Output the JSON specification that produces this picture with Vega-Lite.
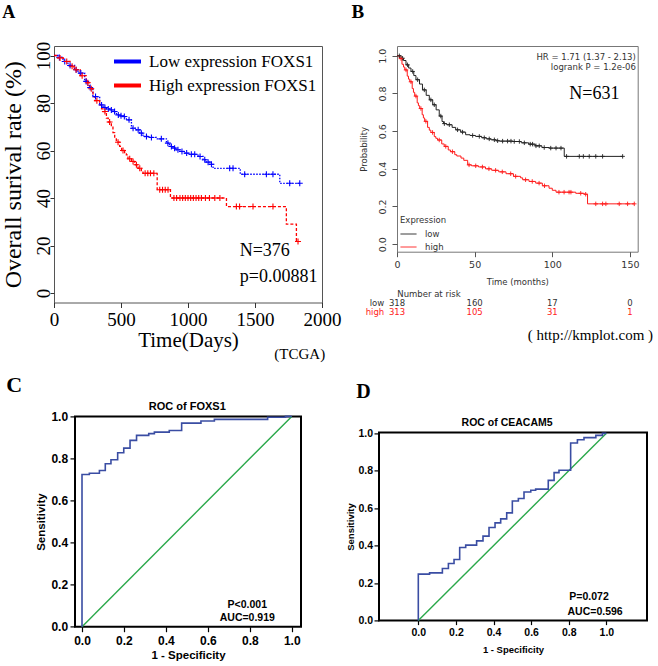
{
"$schema": "https://vega.github.io/schema/vega-lite/v6.json",
"background": "white",
"padding": {"left": 0, "top": 2, "right": 0, "bottom": 0},
"config": {"view": {"stroke": null}, "axis": {"grid": false, "tickCount": 12}, "legend": {"symbolDash": [1, 0]}},
"datasets": {
"kmA": [
{"grp":"low","t":0,"s":100,"c":0},{"grp":"low","t":30,"s":99.2,"c":0},{"grp":"low","t":40,"s":99.2,"c":1},{"grp":"low","t":67,"s":97.5,"c":0},{"grp":"low","t":80,"s":97.5,"c":1},{"grp":"low","t":104,"s":95.8,"c":0},{"grp":"low","t":120,"s":95.8,"c":1},{"grp":"low","t":154,"s":94.0,"c":0},{"grp":"low","t":165,"s":94.0,"c":1},{"grp":"low","t":179,"s":92.6,"c":0},{"grp":"low","t":200,"s":92.6,"c":1},{"grp":"low","t":229,"s":89.1,"c":0},{"grp":"low","t":240,"s":89.1,"c":1},{"grp":"low","t":254,"s":86.5,"c":0},{"grp":"low","t":270,"s":86.5,"c":1},{"grp":"low","t":290,"s":82.7,"c":0},{"grp":"low","t":310,"s":82.7,"c":1},{"grp":"low","t":341,"s":79.2,"c":0},{"grp":"low","t":355,"s":79.2,"c":1},{"grp":"low","t":366,"s":78.1,"c":0},{"grp":"low","t":380,"s":78.1,"c":1},{"grp":"low","t":391,"s":77.5,"c":0},{"grp":"low","t":405,"s":77.5,"c":1},{"grp":"low","t":416,"s":77.1,"c":0},{"grp":"low","t":428,"s":77.1,"c":1},{"grp":"low","t":440,"s":76.4,"c":0},{"grp":"low","t":452,"s":76.4,"c":1},{"grp":"low","t":466,"s":75.0,"c":0},{"grp":"low","t":480,"s":75.0,"c":1},{"grp":"low","t":490,"s":74.6,"c":0},{"grp":"low","t":500,"s":74.6,"c":1},{"grp":"low","t":515,"s":74.3,"c":0},{"grp":"low","t":525,"s":74.3,"c":1},{"grp":"low","t":540,"s":72.9,"c":0},{"grp":"low","t":560,"s":72.9,"c":1},{"grp":"low","t":578,"s":69.4,"c":0},{"grp":"low","t":590,"s":69.4,"c":1},{"grp":"low","t":615,"s":68.7,"c":0},{"grp":"low","t":628,"s":68.7,"c":1},{"grp":"low","t":640,"s":67.3,"c":0},{"grp":"low","t":652,"s":67.3,"c":1},{"grp":"low","t":664,"s":65.9,"c":0},{"grp":"low","t":690,"s":65.9,"c":1},{"grp":"low","t":700,"s":65.5,"c":0},{"grp":"low","t":727,"s":65.5,"c":1},{"grp":"low","t":764,"s":64.9,"c":0},{"grp":"low","t":801,"s":64.9,"c":1},{"grp":"low","t":839,"s":63.1,"c":0},{"grp":"low","t":850,"s":63.1,"c":1},{"grp":"low","t":863,"s":61.7,"c":0},{"grp":"low","t":876,"s":61.7,"c":1},{"grp":"low","t":888,"s":61.0,"c":0},{"grp":"low","t":900,"s":61.0,"c":1},{"grp":"low","t":913,"s":60.3,"c":0},{"grp":"low","t":925,"s":60.3,"c":1},{"grp":"low","t":938,"s":59.6,"c":0},{"grp":"low","t":955,"s":59.6,"c":1},{"grp":"low","t":975,"s":58.9,"c":0},{"grp":"low","t":990,"s":58.9,"c":1},{"grp":"low","t":1000,"s":58.4,"c":0},{"grp":"low","t":1025,"s":58.4,"c":1},{"grp":"low","t":1050,"s":58.4,"c":1},{"grp":"low","t":1075,"s":57.5,"c":0},{"grp":"low","t":1090,"s":57.5,"c":1},{"grp":"low","t":1112,"s":56.1,"c":0},{"grp":"low","t":1125,"s":56.1,"c":1},{"grp":"low","t":1137,"s":55.1,"c":0},{"grp":"low","t":1150,"s":55.1,"c":1},{"grp":"low","t":1162,"s":54.2,"c":0},{"grp":"low","t":1175,"s":54.2,"c":1},{"grp":"low","t":1187,"s":52.5,"c":0},{"grp":"low","t":1311,"s":52.5,"c":1},{"grp":"low","t":1336,"s":52.5,"c":1},{"grp":"low","t":1390,"s":50.0,"c":0},{"grp":"low","t":1423,"s":50.0,"c":1},{"grp":"low","t":1585,"s":50.0,"c":1},{"grp":"low","t":1634,"s":50.0,"c":1},{"grp":"low","t":1685,"s":46.2,"c":0},{"grp":"low","t":1759,"s":46.2,"c":1},{"grp":"low","t":1834,"s":46.2,"c":1},
{"grp":"high","t":0,"s":100,"c":0},{"grp":"high","t":25,"s":99.0,"c":0},{"grp":"high","t":45,"s":99.0,"c":1},{"grp":"high","t":70,"s":97.5,"c":0},{"grp":"high","t":95,"s":97.5,"c":1},{"grp":"high","t":120,"s":95.5,"c":0},{"grp":"high","t":135,"s":95.5,"c":1},{"grp":"high","t":150,"s":94.0,"c":0},{"grp":"high","t":165,"s":94.0,"c":1},{"grp":"high","t":195,"s":91.5,"c":0},{"grp":"high","t":210,"s":91.5,"c":1},{"grp":"high","t":240,"s":88.5,"c":0},{"grp":"high","t":252,"s":88.5,"c":1},{"grp":"high","t":265,"s":86.0,"c":0},{"grp":"high","t":278,"s":86.0,"c":1},{"grp":"high","t":291,"s":82.7,"c":0},{"grp":"high","t":305,"s":81.0,"c":0},{"grp":"high","t":320,"s":81.0,"c":1},{"grp":"high","t":341,"s":79.2,"c":0},{"grp":"high","t":355,"s":77.5,"c":0},{"grp":"high","t":366,"s":76.4,"c":0},{"grp":"high","t":380,"s":76.4,"c":1},{"grp":"high","t":391,"s":73.6,"c":0},{"grp":"high","t":405,"s":72.0,"c":0},{"grp":"high","t":415,"s":72.0,"c":1},{"grp":"high","t":428,"s":70.1,"c":0},{"grp":"high","t":440,"s":67.5,"c":0},{"grp":"high","t":453,"s":65.2,"c":0},{"grp":"high","t":465,"s":63.5,"c":0},{"grp":"high","t":478,"s":63.5,"c":1},{"grp":"high","t":490,"s":61.7,"c":0},{"grp":"high","t":505,"s":60.0,"c":0},{"grp":"high","t":515,"s":60.0,"c":1},{"grp":"high","t":527,"s":59.0,"c":0},{"grp":"high","t":540,"s":58.2,"c":0},{"grp":"high","t":552,"s":56.5,"c":0},{"grp":"high","t":565,"s":56.5,"c":1},{"grp":"high","t":578,"s":55.4,"c":0},{"grp":"high","t":590,"s":55.4,"c":1},{"grp":"high","t":602,"s":54.0,"c":0},{"grp":"high","t":615,"s":54.0,"c":1},{"grp":"high","t":627,"s":52.5,"c":0},{"grp":"high","t":640,"s":52.5,"c":1},{"grp":"high","t":652,"s":51.5,"c":0},{"grp":"high","t":664,"s":50.4,"c":0},{"grp":"high","t":680,"s":50.4,"c":1},{"grp":"high","t":700,"s":50.4,"c":1},{"grp":"high","t":720,"s":50.4,"c":1},{"grp":"high","t":745,"s":50.4,"c":1},{"grp":"high","t":770,"s":43.5,"c":0},{"grp":"high","t":789,"s":43.5,"c":1},{"grp":"high","t":810,"s":43.5,"c":1},{"grp":"high","t":830,"s":43.5,"c":1},{"grp":"high","t":851,"s":43.5,"c":1},{"grp":"high","t":869,"s":40.0,"c":0},{"grp":"high","t":895,"s":40.0,"c":1},{"grp":"high","t":915,"s":40.0,"c":1},{"grp":"high","t":940,"s":40.0,"c":1},{"grp":"high","t":960,"s":40.0,"c":1},{"grp":"high","t":980,"s":40.0,"c":1},{"grp":"high","t":1000,"s":40.0,"c":1},{"grp":"high","t":1020,"s":40.0,"c":1},{"grp":"high","t":1040,"s":40.0,"c":1},{"grp":"high","t":1060,"s":40.0,"c":1},{"grp":"high","t":1080,"s":40.0,"c":1},{"grp":"high","t":1100,"s":40.0,"c":1},{"grp":"high","t":1130,"s":40.0,"c":1},{"grp":"high","t":1160,"s":40.0,"c":1},{"grp":"high","t":1200,"s":40.0,"c":1},{"grp":"high","t":1238,"s":40.0,"c":1},{"grp":"high","t":1287,"s":36.4,"c":0},{"grp":"high","t":1361,"s":36.4,"c":1},{"grp":"high","t":1385,"s":36.4,"c":1},{"grp":"high","t":1485,"s":36.4,"c":1},{"grp":"high","t":1634,"s":36.4,"c":1},{"grp":"high","t":1734,"s":29.0,"c":0},{"grp":"high","t":1809,"s":21.7,"c":0},{"grp":"high","t":1821,"s":21.7,"c":1}
],
"kmB": [
{"grp":"low","t":0,"s":1.0,"c":0},{"grp":"low","t":1.5,"s":1.0,"c":1},{"grp":"low","t":2.6,"s":0.987,"c":0},{"grp":"low","t":3.6,"s":0.987,"c":1},{"grp":"low","t":4.2,"s":0.975,"c":0},{"grp":"low","t":5.8,"s":0.952,"c":0},{"grp":"low","t":6.8,"s":0.952,"c":1},{"grp":"low","t":7.5,"s":0.935,"c":0},{"grp":"low","t":9.0,"s":0.917,"c":0},{"grp":"low","t":10.1,"s":0.917,"c":1},{"grp":"low","t":10.8,"s":0.895,"c":0},{"grp":"low","t":12.2,"s":0.873,"c":0},{"grp":"low","t":13.3,"s":0.873,"c":1},{"grp":"low","t":14.5,"s":0.85,"c":0},{"grp":"low","t":16.4,"s":0.819,"c":0},{"grp":"low","t":17.6,"s":0.819,"c":1},{"grp":"low","t":18.8,"s":0.79,"c":0},{"grp":"low","t":20.8,"s":0.766,"c":0},{"grp":"low","t":21.8,"s":0.766,"c":1},{"grp":"low","t":23.0,"s":0.74,"c":0},{"grp":"low","t":24.0,"s":0.74,"c":1},{"grp":"low","t":25.2,"s":0.713,"c":0},{"grp":"low","t":27.2,"s":0.68,"c":0},{"grp":"low","t":28.2,"s":0.68,"c":1},{"grp":"low","t":29.0,"s":0.651,"c":0},{"grp":"low","t":30.0,"s":0.64,"c":0},{"grp":"low","t":30.5,"s":0.64,"c":1},{"grp":"low","t":32.0,"s":0.634,"c":0},{"grp":"low","t":33.7,"s":0.634,"c":1},{"grp":"low","t":35.5,"s":0.62,"c":0},{"grp":"low","t":37.8,"s":0.607,"c":0},{"grp":"low","t":39.0,"s":0.607,"c":1},{"grp":"low","t":41.0,"s":0.595,"c":0},{"grp":"low","t":42.2,"s":0.595,"c":1},{"grp":"low","t":44.2,"s":0.581,"c":0},{"grp":"low","t":47.0,"s":0.577,"c":0},{"grp":"low","t":48.7,"s":0.577,"c":1},{"grp":"low","t":50.6,"s":0.572,"c":0},{"grp":"low","t":53.0,"s":0.572,"c":1},{"grp":"low","t":54.5,"s":0.565,"c":0},{"grp":"low","t":56.2,"s":0.565,"c":1},{"grp":"low","t":57.5,"s":0.559,"c":0},{"grp":"low","t":59.4,"s":0.559,"c":1},{"grp":"low","t":60.5,"s":0.554,"c":0},{"grp":"low","t":62.7,"s":0.554,"c":1},{"grp":"low","t":63.8,"s":0.549,"c":0},{"grp":"low","t":64.8,"s":0.549,"c":1},{"grp":"low","t":66.0,"s":0.547,"c":0},{"grp":"low","t":68.0,"s":0.547,"c":1},{"grp":"low","t":71.2,"s":0.547,"c":1},{"grp":"low","t":73.4,"s":0.547,"c":1},{"grp":"low","t":74.5,"s":0.545,"c":0},{"grp":"low","t":75.5,"s":0.545,"c":1},{"grp":"low","t":78.8,"s":0.545,"c":1},{"grp":"low","t":80.0,"s":0.538,"c":0},{"grp":"low","t":82.0,"s":0.538,"c":1},{"grp":"low","t":84.8,"s":0.531,"c":0},{"grp":"low","t":85.8,"s":0.531,"c":1},{"grp":"low","t":87.3,"s":0.531,"c":1},{"grp":"low","t":89.0,"s":0.522,"c":0},{"grp":"low","t":89.5,"s":0.522,"c":1},{"grp":"low","t":91.6,"s":0.522,"c":1},{"grp":"low","t":93.3,"s":0.513,"c":0},{"grp":"low","t":94.8,"s":0.513,"c":1},{"grp":"low","t":98.0,"s":0.51,"c":0},{"grp":"low","t":99.0,"s":0.51,"c":1},{"grp":"low","t":102.4,"s":0.51,"c":1},{"grp":"low","t":105.6,"s":0.51,"c":1},{"grp":"low","t":107.7,"s":0.466,"c":0},{"grp":"low","t":109.2,"s":0.466,"c":1},{"grp":"low","t":117.4,"s":0.466,"c":1},{"grp":"low","t":120.0,"s":0.466,"c":1},{"grp":"low","t":123.8,"s":0.466,"c":1},{"grp":"low","t":128.0,"s":0.466,"c":1},{"grp":"low","t":132.4,"s":0.466,"c":1},{"grp":"low","t":145.3,"s":0.466,"c":1},
{"grp":"high","t":0,"s":1.0,"c":0},{"grp":"high","t":1.5,"s":0.985,"c":0},{"grp":"high","t":2.6,"s":0.985,"c":1},{"grp":"high","t":3.2,"s":0.955,"c":0},{"grp":"high","t":4.2,"s":0.94,"c":0},{"grp":"high","t":5.0,"s":0.925,"c":0},{"grp":"high","t":5.8,"s":0.925,"c":1},{"grp":"high","t":6.6,"s":0.892,"c":0},{"grp":"high","t":7.4,"s":0.876,"c":0},{"grp":"high","t":8.2,"s":0.862,"c":0},{"grp":"high","t":9.0,"s":0.862,"c":1},{"grp":"high","t":9.8,"s":0.826,"c":0},{"grp":"high","t":10.6,"s":0.806,"c":0},{"grp":"high","t":11.4,"s":0.786,"c":0},{"grp":"high","t":12.2,"s":0.786,"c":1},{"grp":"high","t":13.0,"s":0.75,"c":0},{"grp":"high","t":13.8,"s":0.735,"c":0},{"grp":"high","t":14.6,"s":0.72,"c":0},{"grp":"high","t":15.4,"s":0.72,"c":1},{"grp":"high","t":16.2,"s":0.687,"c":0},{"grp":"high","t":17.0,"s":0.67,"c":0},{"grp":"high","t":17.8,"s":0.652,"c":0},{"grp":"high","t":18.6,"s":0.652,"c":1},{"grp":"high","t":19.7,"s":0.62,"c":0},{"grp":"high","t":20.8,"s":0.605,"c":0},{"grp":"high","t":21.8,"s":0.593,"c":0},{"grp":"high","t":22.9,"s":0.593,"c":1},{"grp":"high","t":24.0,"s":0.571,"c":0},{"grp":"high","t":25.0,"s":0.562,"c":0},{"grp":"high","t":26.1,"s":0.553,"c":0},{"grp":"high","t":27.2,"s":0.553,"c":1},{"grp":"high","t":28.8,"s":0.532,"c":0},{"grp":"high","t":30.4,"s":0.519,"c":0},{"grp":"high","t":31.4,"s":0.519,"c":1},{"grp":"high","t":33.0,"s":0.5,"c":0},{"grp":"high","t":34.4,"s":0.491,"c":0},{"grp":"high","t":35.7,"s":0.491,"c":1},{"grp":"high","t":37.2,"s":0.475,"c":0},{"grp":"high","t":38.5,"s":0.468,"c":0},{"grp":"high","t":41.2,"s":0.457,"c":0},{"grp":"high","t":43.0,"s":0.445,"c":0},{"grp":"high","t":45.5,"s":0.421,"c":0},{"grp":"high","t":46.4,"s":0.421,"c":1},{"grp":"high","t":48.0,"s":0.416,"c":0},{"grp":"high","t":50.7,"s":0.416,"c":1},{"grp":"high","t":52.5,"s":0.41,"c":0},{"grp":"high","t":55.0,"s":0.41,"c":1},{"grp":"high","t":57.0,"s":0.4,"c":0},{"grp":"high","t":59.2,"s":0.4,"c":1},{"grp":"high","t":61.0,"s":0.392,"c":0},{"grp":"high","t":63.5,"s":0.392,"c":1},{"grp":"high","t":65.5,"s":0.384,"c":0},{"grp":"high","t":67.8,"s":0.384,"c":1},{"grp":"high","t":70.2,"s":0.374,"c":0},{"grp":"high","t":73.2,"s":0.374,"c":1},{"grp":"high","t":75.0,"s":0.36,"c":0},{"grp":"high","t":76.4,"s":0.36,"c":1},{"grp":"high","t":79.6,"s":0.352,"c":0},{"grp":"high","t":80.9,"s":0.342,"c":0},{"grp":"high","t":82.8,"s":0.342,"c":1},{"grp":"high","t":85.0,"s":0.333,"c":0},{"grp":"high","t":87.1,"s":0.333,"c":1},{"grp":"high","t":89.3,"s":0.324,"c":0},{"grp":"high","t":91.5,"s":0.324,"c":1},{"grp":"high","t":93.6,"s":0.31,"c":0},{"grp":"high","t":95.0,"s":0.31,"c":1},{"grp":"high","t":97.9,"s":0.297,"c":0},{"grp":"high","t":100.0,"s":0.286,"c":0},{"grp":"high","t":102.4,"s":0.276,"c":0},{"grp":"high","t":104.3,"s":0.276,"c":1},{"grp":"high","t":107.6,"s":0.276,"c":1},{"grp":"high","t":110.8,"s":0.276,"c":1},{"grp":"high","t":112.0,"s":0.276,"c":1},{"grp":"high","t":115.1,"s":0.27,"c":0},{"grp":"high","t":118.3,"s":0.27,"c":1},{"grp":"high","t":120.5,"s":0.265,"c":0},{"grp":"high","t":121.5,"s":0.265,"c":1},{"grp":"high","t":122.7,"s":0.214,"c":0},{"grp":"high","t":128.0,"s":0.214,"c":1},{"grp":"high","t":132.4,"s":0.214,"c":1},{"grp":"high","t":134.5,"s":0.214,"c":1},{"grp":"high","t":143.1,"s":0.214,"c":1},{"grp":"high","t":148.5,"s":0.214,"c":1},{"grp":"high","t":152.8,"s":0.214,"c":1}
],
"riskB": [
{"grp":"low","t":0,"n":318},{"grp":"low","t":50,"n":160},{"grp":"low","t":100,"n":17},{"grp":"low","t":150,"n":0},
{"grp":"high","t":0,"n":313},{"grp":"high","t":50,"n":105},{"grp":"high","t":100,"n":31},{"grp":"high","t":150,"n":1}
],
"rocC": [
{"i":0,"x":0,"y":0},{"i":1,"x":0,"y":0.724},{"i":2,"x":0.035,"y":0.724},{"i":3,"x":0.035,"y":0.73},{"i":4,"x":0.083,"y":0.73},{"i":5,"x":0.083,"y":0.743},{"i":6,"x":0.111,"y":0.743},{"i":7,"x":0.111,"y":0.775},{"i":8,"x":0.138,"y":0.775},{"i":9,"x":0.138,"y":0.794},{"i":10,"x":0.17,"y":0.794},{"i":11,"x":0.17,"y":0.827},{"i":12,"x":0.199,"y":0.827},{"i":13,"x":0.199,"y":0.849},{"i":14,"x":0.229,"y":0.849},{"i":15,"x":0.229,"y":0.886},{"i":16,"x":0.26,"y":0.886},{"i":17,"x":0.26,"y":0.91},{"i":18,"x":0.318,"y":0.91},{"i":19,"x":0.318,"y":0.918},{"i":20,"x":0.345,"y":0.918},{"i":21,"x":0.345,"y":0.925},{"i":22,"x":0.416,"y":0.925},{"i":23,"x":0.416,"y":0.933},{"i":24,"x":0.475,"y":0.933},{"i":25,"x":0.475,"y":0.968},{"i":26,"x":0.567,"y":0.968},{"i":27,"x":0.567,"y":0.978},{"i":28,"x":0.631,"y":0.978},{"i":29,"x":0.631,"y":0.986},{"i":30,"x":0.885,"y":0.986},{"i":31,"x":0.885,"y":0.996},{"i":32,"x":0.97,"y":0.996},{"i":33,"x":0.97,"y":1},{"i":34,"x":1,"y":1}
],
"rocD": [
{"i":0,"x":0,"y":0},{"i":1,"x":0,"y":0.248},{"i":2,"x":0.06,"y":0.248},{"i":3,"x":0.06,"y":0.255},{"i":4,"x":0.128,"y":0.255},{"i":5,"x":0.128,"y":0.278},{"i":6,"x":0.16,"y":0.278},{"i":7,"x":0.16,"y":0.305},{"i":8,"x":0.19,"y":0.305},{"i":9,"x":0.19,"y":0.326},{"i":10,"x":0.22,"y":0.326},{"i":11,"x":0.22,"y":0.39},{"i":12,"x":0.252,"y":0.39},{"i":13,"x":0.252,"y":0.403},{"i":14,"x":0.31,"y":0.403},{"i":15,"x":0.31,"y":0.426},{"i":16,"x":0.344,"y":0.426},{"i":17,"x":0.344,"y":0.451},{"i":18,"x":0.376,"y":0.451},{"i":19,"x":0.376,"y":0.497},{"i":20,"x":0.408,"y":0.497},{"i":21,"x":0.408,"y":0.522},{"i":22,"x":0.438,"y":0.522},{"i":23,"x":0.438,"y":0.543},{"i":24,"x":0.47,"y":0.543},{"i":25,"x":0.47,"y":0.575},{"i":26,"x":0.5,"y":0.575},{"i":27,"x":0.5,"y":0.639},{"i":28,"x":0.532,"y":0.639},{"i":29,"x":0.532,"y":0.652},{"i":30,"x":0.562,"y":0.652},{"i":31,"x":0.562,"y":0.687},{"i":32,"x":0.598,"y":0.687},{"i":33,"x":0.598,"y":0.696},{"i":34,"x":0.624,"y":0.696},{"i":35,"x":0.624,"y":0.702},{"i":36,"x":0.691,"y":0.702},{"i":37,"x":0.691,"y":0.749},{"i":38,"x":0.722,"y":0.749},{"i":39,"x":0.722,"y":0.79},{"i":40,"x":0.748,"y":0.79},{"i":41,"x":0.748,"y":0.803},{"i":42,"x":0.81,"y":0.803},{"i":43,"x":0.81,"y":0.948},{"i":44,"x":0.846,"y":0.948},{"i":45,"x":0.846,"y":0.966},{"i":46,"x":0.881,"y":0.966},{"i":47,"x":0.881,"y":0.977},{"i":48,"x":0.944,"y":0.977},{"i":49,"x":0.944,"y":0.989},{"i":50,"x":0.979,"y":0.989},{"i":51,"x":0.979,"y":1},{"i":52,"x":1,"y":1}
],
"diag": [{"x":0,"y":0},{"x":1,"y":1}]
},
"spacing": 10.4,
"resolve": {"scale": {"color": "independent"}, "legend": {"color": "independent"}},
"vconcat": [
{
"bounds": "flush",
"spacing": 0,
"resolve": {"scale": {"color": "independent"}, "legend": {"color": "independent"}},
"hconcat": [
{
"width": 268, "height": 256.5,
"view": {"stroke": "#555", "strokeWidth": 1},
"layer": [
{"data": {"name": "kmA"},
 "mark": {"type": "line", "interpolate": "step-after", "strokeWidth": 1.3},
 "encoding": {
  "x": {"field": "t", "type": "quantitative", "scale": {"domain": [0, 2000], "nice": false, "zero": false},
        "axis": {"values": [0, 500, 1000, 1500, 2000], "format": "d", "title": "Time(Days)", "domain": false, "tickSize": 5, "tickColor": "#333", "labelFont": "Liberation Serif", "labelFontSize": 19, "labelColor": "#000", "labelPadding": 3, "labelFlush": false, "labelOverlap": false, "titleFont": "Liberation Serif", "titleFontSize": 21, "titleFontWeight": "normal", "titleColor": "#000", "titlePadding": 0}},
  "y": {"field": "s", "type": "quantitative", "scale": {"domain": [-4, 104], "nice": false, "zero": false},
        "axis": {"values": [0, 20, 40, 60, 80, 100], "title": "Overall  surival rate (%)", "domain": false, "tickSize": 4, "tickColor": "#333", "labelFont": "Liberation Serif", "labelFontSize": 19, "labelColor": "#000", "labelAngle": -90, "labelAlign": "center", "labelBaseline": "alphabetic", "labelPadding": 1, "labelOverlap": false, "titleFont": "Liberation Serif", "titleFontSize": 24, "titleFontWeight": "normal", "titleColor": "#000", "titlePadding": 9}},
  "color": {"field": "grp", "type": "nominal", "scale": {"domain": ["low", "high"], "range": ["#0000ff", "#ff0000"]},
        "legend": {"orient": "none", "legendX": 58, "legendY": 0, "title": null, "symbolType": "stroke", "symbolSize": 729, "symbolStrokeWidth": 4, "labelFont": "Liberation Serif", "labelFontSize": 17, "labelColor": "#000", "labelOffset": 6, "rowPadding": -1, "padding": 0, "labelLimit": 400, "labelExpr": "datum.label == 'low' ? 'Low expression FOXS1' : 'High expression FOXS1'"}},
  "strokeDash": {"field": "grp", "type": "nominal", "scale": {"domain": ["low", "high"], "range": [[1.5, 1.5], [3, 2]]}, "legend": null}
 }},
{"data": {"name": "kmA"}, "transform": [{"filter": "datum.c == 1"}],
 "mark": {"type": "point", "shape": "M-1,0L1,0M0,-1L0,1", "filled": false, "size": 36, "strokeWidth": 1.1, "opacity": 1},
 "encoding": {"x": {"field": "t", "type": "quantitative"}, "y": {"field": "s", "type": "quantitative"}, "color": {"field": "grp", "type": "nominal", "legend": null}}},
{"data": {"values": [{}]}, "mark": {"type": "text", "font": "Liberation Serif", "fontSize": 18, "fontWeight": "bold", "align": "center", "baseline": "middle", "color": "#000"},
 "encoding": {"x": {"datum": -338}, "y": {"datum": 118}, "text": {"value": "A"}}},
{"data": {"values": [{}]}, "mark": {"type": "text", "font": "Liberation Serif", "fontSize": 18, "align": "left", "baseline": "middle", "color": "#000"},
 "encoding": {"x": {"datum": 1386}, "y": {"datum": 17.5}, "text": {"value": "N=376"}}},
{"data": {"values": [{}]}, "mark": {"type": "text", "font": "Liberation Serif", "fontSize": 18, "align": "left", "baseline": "middle", "color": "#000"},
 "encoding": {"x": {"datum": 1386}, "y": {"datum": 6.9}, "text": {"value": "p=0.00881"}}},
{"data": {"values": [{}]}, "mark": {"type": "text", "font": "Liberation Serif", "fontSize": 15, "align": "center", "baseline": "middle", "color": "#000"},
 "encoding": {"x": {"datum": 1834}, "y": {"datum": -25.5}, "text": {"value": "(TCGA)"}}}
]
},
{"width": 75, "height": 1, "data": {"values": []}, "mark": "point", "view": {"stroke": null}},
{
"width": 240.7, "height": 205.7,
"view": {"stroke": "#777", "strokeWidth": 1},
"layer": [
{"data": {"name": "kmB"},
 "mark": {"type": "line", "interpolate": "step-after", "strokeWidth": 1},
 "encoding": {
  "x": {"field": "t", "type": "quantitative", "scale": {"domain": [0, 155], "nice": false, "zero": false},
        "axis": {"values": [0, 50, 100, 150], "title": "Time (months)", "domain": false, "tickSize": 5, "tickColor": "#555", "labelFont": "DejaVu Sans", "labelFontSize": 9.5, "labelColor": "#333", "labelPadding": 3, "labelFlush": false, "titleFont": "DejaVu Sans", "titleFontSize": 8.5, "titleFontWeight": "normal", "titleColor": "#333", "titlePadding": 8}},
  "y": {"field": "s", "type": "quantitative", "scale": {"domain": [-0.04, 1.052], "nice": false, "zero": false},
        "axis": {"values": [0, 0.2, 0.4, 0.6, 0.8, 1.0], "format": ".1f", "title": "Probability", "domain": false, "tickSize": 5, "tickColor": "#555", "labelFont": "DejaVu Sans", "labelFontSize": 9.5, "labelColor": "#333", "labelAngle": -90, "labelAlign": "center", "labelBaseline": "alphabetic", "labelPadding": 6.5, "labelOverlap": false, "titleFont": "DejaVu Sans", "titleFontSize": 8.5, "titleFontWeight": "normal", "titleColor": "#333", "titlePadding": 9}},
  "color": {"field": "grp", "type": "nominal", "scale": {"domain": ["low", "high"], "range": ["#222222", "#ff1a1a"]},
        "legend": {"orient": "none", "legendX": 3, "legendY": 170, "title": "Expression", "titleFont": "DejaVu Sans", "titleFontSize": 8.5, "titleFontWeight": "normal", "titleColor": "#333", "titlePadding": 1, "symbolType": "stroke", "symbolSize": 256, "symbolStrokeWidth": 1, "labelFont": "DejaVu Sans", "labelFontSize": 8.5, "labelColor": "#333", "labelOffset": 8, "rowPadding": 0, "padding": 0}}
 }},
{"data": {"name": "kmB"}, "transform": [{"filter": "datum.c == 1"}],
 "mark": {"type": "point", "shape": "M-1,0L1,0M0,-1L0,1", "filled": false, "size": 20, "strokeWidth": 0.9, "opacity": 1},
 "encoding": {"x": {"field": "t", "type": "quantitative"}, "y": {"field": "s", "type": "quantitative"}, "color": {"field": "grp", "type": "nominal", "legend": null}}},
{"data": {"values": [{}]}, "mark": {"type": "text", "font": "Liberation Serif", "fontSize": 19, "fontWeight": "bold", "align": "center", "baseline": "middle", "color": "#000"},
 "encoding": {"x": {"datum": -25.2}, "y": {"datum": 1.23}, "text": {"value": "B"}}},
{"data": {"values": [{}]}, "mark": {"type": "text", "font": "DejaVu Sans", "fontSize": 8.5, "align": "right", "baseline": "middle", "color": "#333"},
 "encoding": {"x": {"datum": 153.8}, "y": {"datum": 0.996}, "text": {"value": "HR = 1.71 (1.37 - 2.13)"}}},
{"data": {"values": [{}]}, "mark": {"type": "text", "font": "DejaVu Sans", "fontSize": 8.5, "align": "right", "baseline": "middle", "color": "#333"},
 "encoding": {"x": {"datum": 153.8}, "y": {"datum": 0.938}, "text": {"value": "logrank P = 1.2e-06"}}},
{"data": {"values": [{}]}, "mark": {"type": "text", "font": "Liberation Serif", "fontSize": 18, "align": "left", "baseline": "middle", "color": "#000"},
 "encoding": {"x": {"datum": 111}, "y": {"datum": 0.796}, "text": {"value": "N=631"}}},
{"data": {"values": [{}]}, "mark": {"type": "text", "font": "DejaVu Sans", "fontSize": 8.5, "align": "left", "baseline": "middle", "color": "#333"},
 "encoding": {"x": {"datum": 0.2}, "y": {"datum": -0.265}, "text": {"value": "Number at risk"}}},
{"data": {"values": [{}]}, "mark": {"type": "text", "font": "DejaVu Sans", "fontSize": 8.5, "align": "right", "baseline": "middle", "color": "#333"},
 "encoding": {"x": {"datum": -8.2}, "y": {"datum": -0.313}, "text": {"value": "low"}}},
{"data": {"values": [{}]}, "mark": {"type": "text", "font": "DejaVu Sans", "fontSize": 8.5, "align": "right", "baseline": "middle", "color": "#ff1a1a"},
 "encoding": {"x": {"datum": -8.2}, "y": {"datum": -0.3625}, "text": {"value": "high"}}},
{"data": {"name": "riskB"}, "transform": [{"filter": "datum.grp == 'low'"}],
 "mark": {"type": "text", "font": "DejaVu Sans", "fontSize": 8.5, "align": "center", "baseline": "middle", "color": "#333"},
 "encoding": {"x": {"field": "t", "type": "quantitative"}, "y": {"datum": -0.313}, "text": {"field": "n"}}},
{"data": {"name": "riskB"}, "transform": [{"filter": "datum.grp == 'high'"}],
 "mark": {"type": "text", "font": "DejaVu Sans", "fontSize": 8.5, "align": "center", "baseline": "middle", "color": "#ff1a1a"},
 "encoding": {"x": {"field": "t", "type": "quantitative"}, "y": {"datum": -0.3625}, "text": {"field": "n"}}},
{"data": {"values": [{}]}, "mark": {"type": "text", "font": "Liberation Serif", "fontSize": 15, "align": "center", "baseline": "middle", "color": "#000"},
 "encoding": {"x": {"datum": 124.5}, "y": {"datum": -0.481}, "text": {"value": "( http://kmplot.com  )"}}}
]
}
]
},
{
"bounds": "flush",
"spacing": 0,
"hconcat": [
{"width": 21, "height": 1, "data": {"values": []}, "mark": "point", "view": {"stroke": null}},
{
"width": 226, "height": 210.3,
"view": {"stroke": "#000", "strokeWidth": 2},
"layer": [
{"data": {"name": "diag"},
 "mark": {"type": "line", "color": "#2aa84a", "strokeWidth": 1.4},
 "encoding": {
  "x": {"field": "x", "type": "quantitative", "scale": {"domain": [-0.0334, 1.044], "nice": false, "zero": false},
        "axis": {"values": [0, 0.2, 0.4, 0.6, 0.8, 1.0], "format": ".1f", "title": "1 - Specificity", "domain": false, "tickSize": 5, "tickColor": "#000", "tickWidth": 1.2, "labelFont": "Liberation Sans", "labelFontSize": 12, "labelFontWeight": "bold", "labelColor": "#000", "labelPadding": 4, "labelFlush": false, "titleFont": "Liberation Sans", "titleFontSize": 11.5, "titleFontWeight": "bold", "titleColor": "#000", "titlePadding": 3}},
  "y": {"field": "y", "type": "quantitative", "scale": {"domain": [0, 1], "nice": false, "zero": false},
        "axis": {"values": [0, 0.2, 0.4, 0.6, 0.8, 1.0], "format": ".1f", "title": "Sensitivity", "domain": false, "tickSize": 5, "tickColor": "#000", "tickWidth": 1.2, "labelFont": "Liberation Sans", "labelFontSize": 12, "labelFontWeight": "bold", "labelColor": "#000", "labelPadding": 2.4, "labelOverlap": false, "titleFont": "Liberation Sans", "titleFontSize": 11.5, "titleFontWeight": "bold", "titleColor": "#000", "titlePadding": 4}}
 }},
{"data": {"name": "rocC"},
 "mark": {"type": "line", "color": "#3a4da3", "strokeWidth": 1.6},
 "encoding": {"x": {"field": "x", "type": "quantitative"}, "y": {"field": "y", "type": "quantitative"}, "order": {"field": "i", "type": "quantitative"}}},
{"data": {"values": [{}]}, "mark": {"type": "text", "font": "Liberation Serif", "fontSize": 22, "fontWeight": "bold", "align": "center", "baseline": "middle", "color": "#000"},
 "encoding": {"x": {"datum": -0.323}, "y": {"datum": 1.147}, "text": {"value": "C"}}},
{"data": {"values": [{}]}, "mark": {"type": "text", "font": "Liberation Sans", "fontSize": 11, "fontWeight": "bold", "align": "center", "baseline": "middle", "color": "#000"},
 "encoding": {"x": {"datum": 0.502}, "y": {"datum": 1.043}, "text": {"value": "ROC of FOXS1"}}},
{"data": {"values": [{}]}, "mark": {"type": "text", "font": "Liberation Sans", "fontSize": 10.5, "fontWeight": "bold", "align": "center", "baseline": "middle", "color": "#000"},
 "encoding": {"x": {"datum": 0.788}, "y": {"datum": 0.101}, "text": {"value": "P<0.001"}}},
{"data": {"values": [{}]}, "mark": {"type": "text", "font": "Liberation Sans", "fontSize": 10.5, "fontWeight": "bold", "align": "center", "baseline": "middle", "color": "#000"},
 "encoding": {"x": {"datum": 0.788}, "y": {"datum": 0.043}, "text": {"value": "AUC=0.919"}}}
]
},
{"width": 78, "height": 1, "data": {"values": []}, "mark": "point", "view": {"stroke": null}},
{
"bounds": "flush",
"spacing": 0,
"vconcat": [
{"width": 1, "height": 16, "data": {"values": []}, "mark": "point", "view": {"stroke": null}},
{
"width": 268, "height": 188.2,
"view": {"stroke": "#000", "strokeWidth": 2},
"layer": [
{"data": {"name": "diag"},
 "mark": {"type": "line", "color": "#2aa84a", "strokeWidth": 1.4},
 "encoding": {
  "x": {"field": "x", "type": "quantitative", "scale": {"domain": [-0.209, 1.216], "nice": false, "zero": false},
        "axis": {"values": [0, 0.2, 0.4, 0.6, 0.8, 1.0], "format": ".1f", "title": "1 - Specificity", "domain": false, "tickSize": 4, "tickColor": "#000", "tickWidth": 1.2, "labelFont": "Liberation Sans", "labelFontSize": 10.5, "labelFontWeight": "bold", "labelColor": "#000", "labelPadding": 3, "labelFlush": false, "titleFont": "Liberation Sans", "titleFontSize": 9.5, "titleFontWeight": "bold", "titleColor": "#000", "titlePadding": 6}},
  "y": {"field": "y", "type": "quantitative", "scale": {"domain": [0, 1.005], "nice": false, "zero": false},
        "axis": {"values": [0, 0.2, 0.4, 0.6, 0.8, 1.0], "format": ".1f", "tickCount": 12, "title": "Sensitivity", "domain": false, "tickSize": 5, "tickColor": "#000", "tickWidth": 1.2, "labelFont": "Liberation Sans", "labelFontSize": 10.5, "labelFontWeight": "bold", "labelColor": "#000", "labelPadding": 1.5, "labelOverlap": false, "titleFont": "Liberation Sans", "titleFontSize": 9.5, "titleFontWeight": "bold", "titleColor": "#000", "titlePadding": 2}}
 }},
{"data": {"name": "rocD"},
 "mark": {"type": "line", "color": "#3a4da3", "strokeWidth": 1.6},
 "encoding": {"x": {"field": "x", "type": "quantitative"}, "y": {"field": "y", "type": "quantitative"}, "order": {"field": "i", "type": "quantitative"}}},
{"data": {"values": [{}]}, "mark": {"type": "text", "font": "Liberation Serif", "fontSize": 20, "fontWeight": "bold", "align": "center", "baseline": "middle", "color": "#000"},
 "encoding": {"x": {"datum": -0.291}, "y": {"datum": 1.221}, "text": {"value": "D"}}},
{"data": {"values": [{}]}, "mark": {"type": "text", "font": "Liberation Sans", "fontSize": 10.5, "fontWeight": "bold", "align": "center", "baseline": "middle", "color": "#000"},
 "encoding": {"x": {"datum": 0.472}, "y": {"datum": 1.053}, "text": {"value": "ROC of  CEACAM5"}}},
{"data": {"values": [{}]}, "mark": {"type": "text", "font": "Liberation Sans", "fontSize": 10.5, "fontWeight": "bold", "align": "center", "baseline": "middle", "color": "#000"},
 "encoding": {"x": {"datum": 0.908}, "y": {"datum": 0.125}, "text": {"value": "P=0.072"}}},
{"data": {"values": [{}]}, "mark": {"type": "text", "font": "Liberation Sans", "fontSize": 10.5, "fontWeight": "bold", "align": "center", "baseline": "middle", "color": "#000"},
 "encoding": {"x": {"datum": 0.94}, "y": {"datum": 0.045}, "text": {"value": "AUC=0.596"}}}
]
}
]
}
]
}
]
}
